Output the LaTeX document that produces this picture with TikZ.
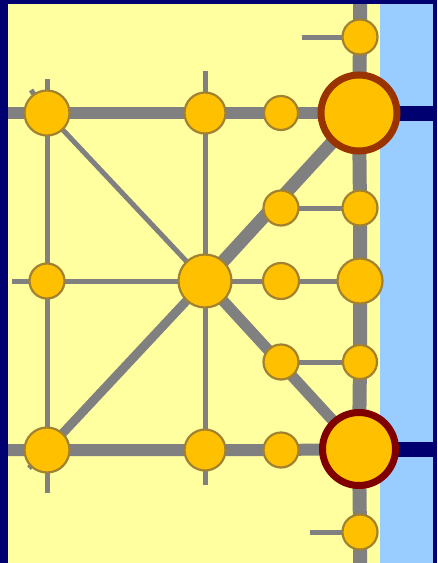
\documentclass[tikz,border=0pt]{standalone}
\usepackage{tikz}
\usetikzlibrary{backgrounds}
\definecolor{tnavy}{RGB}{0,0,112}
\definecolor{tpale}{RGB}{255,255,160}
\definecolor{tsky}{RGB}{153,204,255}
\definecolor{tgold}{RGB}{255,192,0}
\definecolor{tgrey}{RGB}{128,128,128}
\definecolor{trim}{RGB}{160,130,50}
\definecolor{tbrown}{RGB}{153,51,0}
\definecolor{tmaroon}{RGB}{128,0,0}
\tikzset{
  stop/.style={circle, fill=tgold, draw=trim, line width=2.2pt, inner sep=0pt, minimum size=#1},
  hub/.style={circle, fill=tgold, draw=#1, line width=7pt, inner sep=0pt, minimum size=76pt},
  thin/.style={draw=tgrey, line width=5pt},
  bus/.style={draw=tgrey, line width=#1},
  feed/.style={draw=tnavy, line width=15pt}
}

\begin{document}
\begin{tikzpicture}[x=1pt, y=-1pt]
    \useasboundingbox (0,0) rectangle (437,563);
    \begin{scope}[on background layer]
      \fill[tnavy] (0,0) rectangle (437,563);
      \fill[tpale] (8,4) rectangle (380,563);
      \fill[tsky] (380,4) rectangle (433,563);
    \end{scope}

    % stops on the left and middle
    \node[stop=45pt] (tl) at (47,113) {};
    \node[stop=41pt] (tm) at (205,113) {};
    \node[stop=34pt] (ts) at (281,113) {};
    \node[stop=35pt] (ml) at (47,281) {};
    \node[stop=53pt] (cen) at (205,281) {};
    \node[stop=36pt] (mr) at (281,281) {};
    \node[stop=35pt] (ur) at (281,208) {};
    \node[stop=35pt] (lr) at (281,362) {};
    \node[stop=45pt] (bl) at (47,450) {};
    \node[stop=41pt] (bm) at (205,450) {};
    \node[stop=35pt] (bs) at (281,450) {};

    % stops along the right line
    \node[stop=35pt] (rtop) at (360,37) {};
    \node[hub=tbrown] (tbig) at (359,113) {};
    \node[stop=35pt] (rur) at (360,208) {};
    \node[stop=45pt] (rmid) at (360,281) {};
    \node[stop=34pt] (rlr) at (360,362) {};
    \node[hub=tmaroon, minimum size=73pt] (bbig) at (359,449) {};
    \node[stop=35pt] (rbot) at (360,532) {};

    % free ends of the stubs
    \coordinate (vtop) at (360,4);
    \coordinate (vbot) at (360,563);
    \coordinate (west1) at (8,113);
    \coordinate (west2) at (12,281);
    \coordinate (west3) at (8,450);
    \coordinate (east1) at (433,113);
    \coordinate (east3) at (433,449);
    \coordinate (tlup) at (47,79);
    \coordinate (tlnw) at (31,90);
    \coordinate (tmup) at (205,71);
    \coordinate (bldn) at (47,493);
    \coordinate (blsw) at (29,468);
    \coordinate (bmdn) at (205,485);
    \coordinate (rtopw) at (302,37);
    \coordinate (rbotw) at (310,532);

    \begin{scope}[on background layer]
      % thin lines
      \draw[thin] (tl.center) -- (bl.center);
      \draw[thin] (tm.center) -- (bm.center);
      \draw[thin] (tl.center) -- (cen.center);
      \draw[thin] (west2) -- (ml.center) -- (cen.center) -- (mr.center) -- (rmid.center);
      \draw[thin] (ur.center) -- (rur.center);
      \draw[thin] (lr.center) -- (rlr.center);
      \draw[thin] (tlup) -- (tl.center);
      \draw[thin] (tlnw) -- (tl.center);
      \draw[thin] (tmup) -- (tm.center);
      \draw[thin] (bldn) -- (bl.center);
      \draw[thin] (blsw) -- (bl.center);
      \draw[thin] (bmdn) -- (bm.center);
      \draw[thin] (rtopw) -- (rtop.center);
      \draw[thin] (rbotw) -- (rbot.center);
      % thick lines
      \draw[bus=9pt] (cen.center) -- (bl.center);
      \draw[bus=13pt] (cen.center) -- (tbig.center);
      \draw[bus=11pt] (cen.center) -- (bbig.center);
      \draw[bus=12pt] (west1) -- (tl.center) -- (tm.center) -- (ts.center) -- (tbig.center);
      \draw[bus=12pt] (west3) -- (bl.center) -- (bm.center) -- (bs.center) -- (bbig.center);
      \draw[bus=14pt] (vtop) -- (rtop.center) -- (tbig.center) -- (rur.center) -- (rmid.center)
        -- (rlr.center) -- (bbig.center) -- (rbot.center) -- (vbot);
      % feeders to the right
      \draw[feed] (tbig.center) -- (east1);
      \draw[feed] (bbig.center) -- (east3);
    \end{scope}
  \end{tikzpicture}
\end{document}
